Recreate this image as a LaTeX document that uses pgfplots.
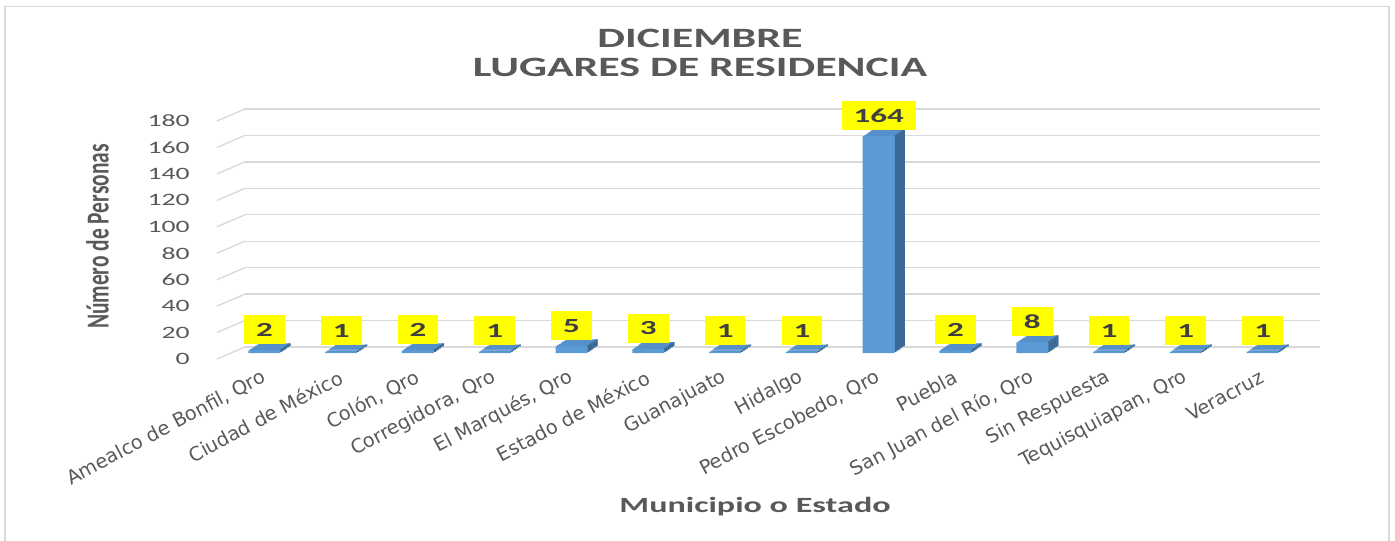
\documentclass[border=0pt]{standalone}
\usepackage{pgfplots}
\pgfplotsset{compat=1.18}
\usepackage{pgfplotstable}
\usepackage{fontspec}
\setmainfont{Carlito}
\newfontfamily\titlefont[FakeStretch=1.57]{Carlito}
\newfontfamily\tickfont[FakeStretch=1.6]{Carlito}
\newfontfamily\xlabfont{DejaVu Sans}
\newfontfamily\ylabfont[FakeStretch=0.67]{Carlito}
\newfontfamily\datafont[FakeStretch=1.65]{Carlito}
\definecolor{gridc}{HTML}{D9D9D9}
\definecolor{txt}{HTML}{595959}
\definecolor{barfront}{HTML}{5B9BD5}
\definecolor{bartop}{HTML}{5590CA}
\definecolor{barside}{HTML}{3B6A97}
\definecolor{lab}{HTML}{404040}
\definecolor{labfill}{HTML}{FFFF00}

\pgfplotstableread{
idx val
0 2
1 1
2 2
3 1
4 5
5 3
6 1
7 1
8 164
9 2
10 8
11 1
12 1
13 1
}\datatable

\begin{document}
\begin{tikzpicture}
\path[use as bounding box] (0,0) rectangle (1046.25pt,405pt);
\draw[gridc, line width=1.2pt] (3.75pt,-5pt) -- (3.75pt,400pt) -- (1041.75pt,400pt) -- (1041.75pt,-5pt);

% back wall: grid and y ticks
\begin{axis}[at={(183.75pt,144.75pt)}, anchor=south west,
  width=806.25pt, height=178.5pt, scale only axis,
  xmin=-0.5, xmax=13.5, ymin=0, ymax=180,
  xtick=\empty, ytick={0,20,...,180},
  ymajorgrids, grid style={gridc, line width=1pt},
  axis line style={draw=none}, major tick length=0pt,
  /pgf/number format/assume math mode=true,
  yticklabel style={font=\tickfont\fontsize{13}{13}\selectfont, text=txt,
    anchor=east, inner sep=0pt, xshift=-41.25pt, yshift=-9pt},
  clip=false]
\addplot[draw=none, forget plot] coordinates {(0,0)};
\pgfplotsinvokeforeach{0,20,40,60,80,100,120,140,160,180}{
  \draw[gridc, line width=1pt] (axis cs:-0.5,#1) -- ++(-21pt,-9pt);
}
\end{axis}

% bars (front plane) with depth, labels
\begin{axis}[at={(169.5pt,140.25pt)}, anchor=south west,
  width=806.25pt, height=178.5pt, scale only axis,
  xmin=-0.5, xmax=13.5, ymin=0, ymax=180,
  ybar, bar width=24pt, clip=false,
  axis line style={draw=none}, major tick length=0pt,
  ytick=\empty,
  xtick={0,...,13},
  xticklabels={{Amealco de Bonfil, Qro},{Ciudad de México},{Colón, Qro},{Corregidora, Qro},{El Marqués, Qro},{Estado de México},{Guanajuato},{Hidalgo},{Pedro Escobedo, Qro},{Puebla},{San Juan del Río, Qro},{Sin Respuesta},{Tequisquiapan, Qro},{Veracruz}},
  xticklabel shift=17pt,
  xticklabel style={font=\xlabfont\fontsize{14.5}{14.5}\selectfont, text=txt,
    anchor=east, inner sep=0pt, rotate=28},
  /pgf/number format/assume math mode=true]
% top face layers
\pgfplotsinvokeforeach{6,5,4,3,2,1}{
  \addplot[fill=bartop, draw=none, bar shift=#1*1.25pt, yshift=#1*0.875pt, forget plot] table[x=idx, y=val] {\datatable};
}
% side face strips
\pgfplotsinvokeforeach{6,5,4,3,2,1}{
  \addplot[fill=barside, draw=none, bar width=1.45pt, bar shift=12pt+(#1-0.5)*1.25pt, yshift=#1*0.875pt, forget plot] table[x=idx, y=val] {\datatable};
}
% front face with labels
\addplot[fill=barfront, draw=none, bar shift=0pt,
  nodes near coords,
  every node near coord/.append style={fill=labfill, text=lab,
    font=\datafont\bfseries\fontsize{15}{15}\selectfont,
    inner xsep=9pt, inner ysep=0pt, minimum height=21.75pt,
    anchor=south, yshift=4.5pt}] table[x=idx, y=val] {\datatable};
\end{axis}

\node[rotate=90, font=\ylabfont\bfseries\fontsize{24}{24}\selectfont, text=txt] at (73.1pt,227.6pt) {Número de Personas};
\node[anchor=base, font=\titlefont\bfseries\fontsize{21}{21}\selectfont, text=txt] at (525pt,369pt) {DICIEMBRE};
\node[anchor=base, font=\titlefont\bfseries\fontsize{21}{21}\selectfont, text=txt] at (525pt,347.25pt) {LUGARES DE RESIDENCIA};
\node[anchor=base, font=\titlefont\bfseries\fontsize{16.3}{16.3}\selectfont, text=txt] at (566.25pt,21pt) {Municipio o Estado};
\end{tikzpicture}
\end{document}
